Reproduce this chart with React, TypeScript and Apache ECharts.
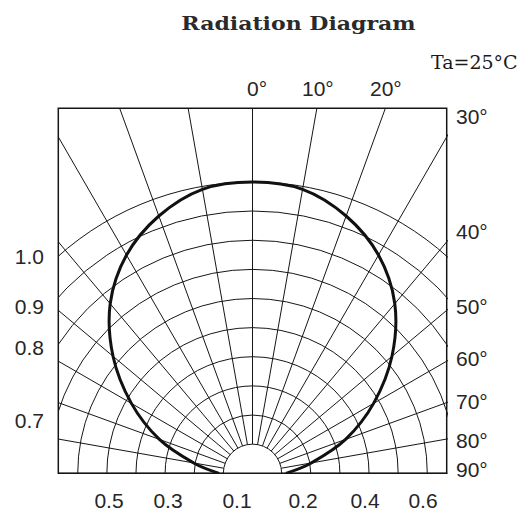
import React, { useEffect, useRef } from "react";
import * as echarts from "echarts";

// ---------- data ----------
const ANGLES_DEG = [0, 10, 20, 30, 40, 50, 60, 70, 80, 90];
const RELATIVE_INTENSITY = [1.0, 0.99, 0.94, 0.865, 0.76, 0.625, 0.48, 0.34, 0.205, 0.115];
const GRID_RINGS = [0.1, 0.2, 0.3, 0.4, 0.5, 0.6, 0.7, 0.8, 0.9, 1.0];
const GRID_SPOKES = [-90, -80, -70, -60, -50, -40, -30, -20, -10, 0, 10, 20, 30, 40, 50, 60, 70, 80, 90];
const TITLE = "Radiation Diagram";
const CONDITION = "Ta=25°C";
const TOP_ANGLE_LABELS = ["0°", "10°", "20°"];
const RIGHT_ANGLE_LABELS = ["30°", "40°", "50°", "60°", "70°", "80°", "90°"];
const LEFT_INTENSITY_LABELS = ["1.0", "0.9", "0.8", "0.7"];
const BOTTOM_INTENSITY_LABELS = ["0.5", "0.3", "0.1", "0.2", "0.4", "0.6"];

// ---------- layout ----------
const W = 529;
const H = 514;
const BOX_LEFT = 58.3;
const BOX_TOP = 108.3;
const BOX_W = 388.4;
const BOX_H = 365;
const UNIT_PX = 291.3; // pixels for relative intensity 1.0
const X_MAX = BOX_W / 2 / UNIT_PX;
const Y_MAX = BOX_H / UNIT_PX;
const TOP_LABEL_POS = [
  [247, 88],
  [302, 88],
  [370, 88],
];
const RIGHT_LABEL_X = 456;
const RIGHT_LABEL_Y = [116, 231.5, 306, 358, 401.7, 440.5, 469];
const LEFT_LABEL_X = 44;
const LEFT_LABEL_Y = [256.7, 306, 347, 420];
const BOTTOM_LABEL_X = [109, 168, 237, 303, 365, 423];
const BOTTOM_LABEL_Y = 500.5;

const INK = "#161616";
const TEXT_INK = "#262626";
const TICK_FONT = '21px "Liberation Sans", Arial, sans-serif';

// polar (angle from vertical, relative intensity) -> cartesian data coordinates
function buildCurve(): number[][] {
  const pts: number[][] = [];
  const toXY = (deg: number, v: number) => {
    const a = (deg * Math.PI) / 180;
    return [v * Math.sin(a), v * Math.cos(a)];
  };
  for (let i = ANGLES_DEG.length - 1; i >= 1; i--) {
    pts.push(toXY(-ANGLES_DEG[i], RELATIVE_INTENSITY[i]));
  }
  for (let i = 0; i < ANGLES_DEG.length; i++) {
    pts.push(toXY(ANGLES_DEG[i], RELATIVE_INTENSITY[i]));
  }
  return pts;
}

function tickText(text: string, x: number, y: number, align: string) {
  return {
    type: "text",
    x,
    y,
    silent: true,
    style: {
      text,
      x: 0,
      y: 0,
      font: TICK_FONT,
      fill: TEXT_INK,
      align,
      verticalAlign: "middle",
    },
  };
}

export default function App() {
  const ref = useRef<HTMLDivElement>(null);

  useEffect(() => {
    if (!ref.current) return;
    const chart = echarts.init(ref.current, undefined, { renderer: "svg" });
    const curve = buildCurve();

    const graphics: any[] = [];
    graphics.push({
      type: "text",
      x: 298.5,
      y: 24,
      scaleX: 1.16,
      silent: true,
      style: {
        text: TITLE,
        x: 0,
        y: 0,
        font: 'bold 19px "DejaVu Serif", "Liberation Serif", serif',
        fill: "#2a2a2a",
        align: "center",
        verticalAlign: "middle",
      },
    });
    graphics.push({
      type: "text",
      x: 431,
      y: 62,
      silent: true,
      style: {
        text: CONDITION,
        x: 0,
        y: 0,
        font: '19px "DejaVu Serif", "Liberation Serif", serif',
        fill: "#1a1a1a",
        align: "left",
        verticalAlign: "middle",
      },
    });
    TOP_ANGLE_LABELS.forEach((t, i) =>
      graphics.push(tickText(t, TOP_LABEL_POS[i][0], TOP_LABEL_POS[i][1], "left"))
    );
    RIGHT_ANGLE_LABELS.forEach((t, i) =>
      graphics.push(tickText(t, RIGHT_LABEL_X, RIGHT_LABEL_Y[i], "left"))
    );
    LEFT_INTENSITY_LABELS.forEach((t, i) =>
      graphics.push(tickText(t, LEFT_LABEL_X, LEFT_LABEL_Y[i], "right"))
    );
    BOTTOM_INTENSITY_LABELS.forEach((t, i) =>
      graphics.push(tickText(t, BOTTOM_LABEL_X[i], BOTTOM_LABEL_Y, "center"))
    );

    const option: any = {
      animation: false,
      backgroundColor: "#ffffff",
      grid: {
        left: BOX_LEFT,
        top: BOX_TOP,
        width: BOX_W,
        height: BOX_H,
        show: true,
        borderColor: INK,
        borderWidth: 1.5,
        backgroundColor: "transparent",
      },
      xAxis: { type: "value", min: -X_MAX, max: X_MAX, show: false },
      yAxis: { type: "value", min: 0, max: Y_MAX, show: false },
      graphic: graphics,
      series: [
        {
          type: "custom",
          name: "rings",
          coordinateSystem: "cartesian2d",
          clip: true,
          silent: true,
          data: GRID_RINGS.map((r) => [r, 0]),
          renderItem: (_params: any, api: any) => {
            const level = api.value(0);
            const c = api.coord([0, 0]);
            const r = api.size([level, 0])[0];
            return {
              type: "arc",
              shape: {
                cx: c[0],
                cy: c[1],
                r,
                startAngle: Math.PI,
                endAngle: 2 * Math.PI,
                clockwise: true,
              },
              style: { stroke: INK, lineWidth: 1, fill: "none" },
            };
          },
          z: 1,
        },
        {
          type: "custom",
          name: "spokes",
          coordinateSystem: "cartesian2d",
          clip: true,
          silent: true,
          data: GRID_SPOKES.map((a) => [a, 0]),
          renderItem: (_params: any, api: any) => {
            const a = (api.value(0) * Math.PI) / 180;
            const inner = GRID_RINGS[0];
            const p1 = api.coord([inner * Math.sin(a), inner * Math.cos(a)]);
            const p2 = api.coord([3 * Math.sin(a), 3 * Math.cos(a)]);
            return {
              type: "line",
              shape: { x1: p1[0], y1: p1[1], x2: p2[0], y2: p2[1] },
              style: { stroke: INK, lineWidth: 1 },
            };
          },
          z: 1,
        },
        {
          type: "custom",
          name: "radiation",
          coordinateSystem: "cartesian2d",
          clip: true,
          silent: true,
          data: curve,
          renderItem: (params: any, api: any) => {
            if (params.dataIndex !== 0) return { type: "group", children: [] };
            const points = curve.map((p) => api.coord(p));
            return {
              type: "polyline",
              shape: { points, smooth: 0.36 },
              style: { stroke: "#111111", lineWidth: 3, fill: "none", lineJoin: "round" },
            };
          },
          z: 3,
        },
      ],
    };

    chart.setOption(option);
    return () => chart.dispose();
  }, []);

  return (
    <div
      ref={ref}
      style={{ position: "absolute", left: 0, top: 0, width: W, height: H, background: "#fff" }}
    />
  );
}
